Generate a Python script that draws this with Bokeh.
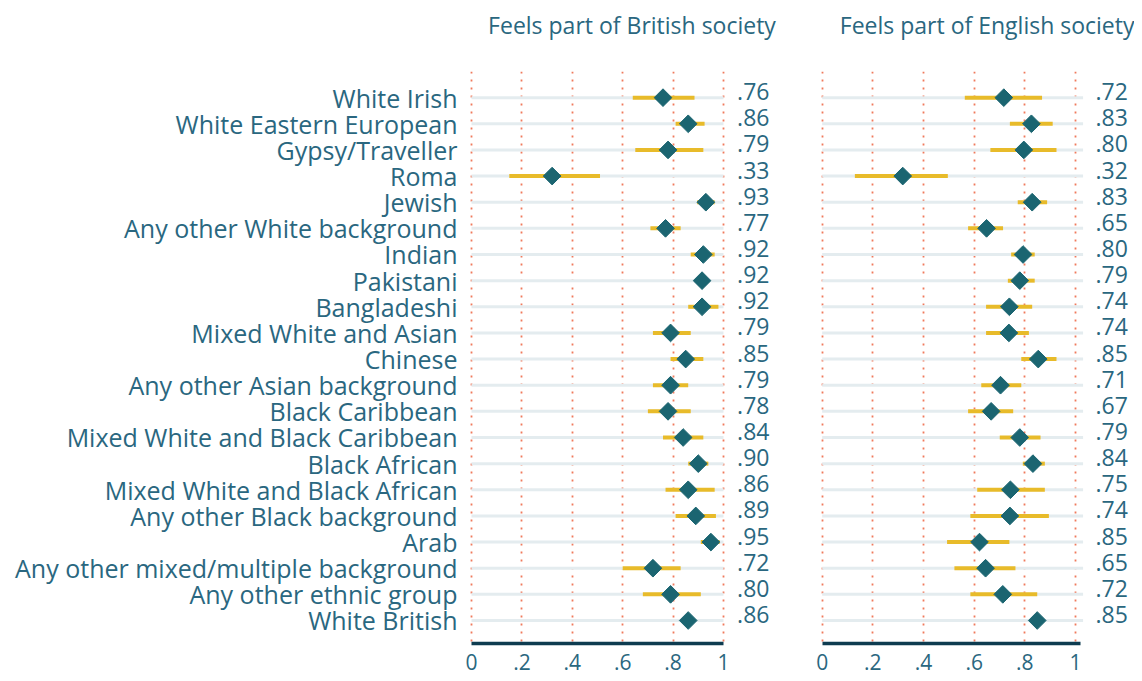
from bokeh.plotting import figure
from bokeh.layouts import row
from bokeh.models import ColumnDataSource, FixedTicker, Range1d, Title
from bokeh.core.properties import value
from bokeh.embed import file_html
from bokeh.resources import INLINE
import math

categories = ["White Irish", "White Eastern European", "Gypsy/Traveller", "Roma", "Jewish",
              "Any other White background", "Indian", "Pakistani", "Bangladeshi",
              "Mixed White and Asian", "Chinese", "Any other Asian background", "Black Caribbean",
              "Mixed White and Black Caribbean", "Black African", "Mixed White and Black African",
              "Any other Black background", "Arab", "Any other mixed/multiple background",
              "Any other ethnic group", "White British"]

british_est = [0.76, 0.86, 0.78, 0.32, 0.93, 0.77, 0.92, 0.915, 0.915, 0.79, 0.85, 0.79, 0.78,
               0.84, 0.90, 0.86, 0.89, 0.95, 0.72, 0.79, 0.86]
british_lo = [0.64, 0.81, 0.65, 0.15, 0.895, 0.71, 0.87, 0.90, 0.86, 0.72, 0.79, 0.72, 0.70,
              0.76, 0.86, 0.77, 0.81, 0.91, 0.60, 0.68, 0.85]
british_hi = [0.885, 0.925, 0.92, 0.51, 0.965, 0.83, 0.965, 0.93, 0.98, 0.87, 0.92, 0.86, 0.87,
              0.92, 0.94, 0.965, 0.97, 0.985, 0.83, 0.91, 0.87]
british_labels = [".76", ".86", ".79", ".33", ".93", ".77", ".92", ".92", ".92", ".79", ".85", ".79",
                  ".78", ".84", ".90", ".86", ".89", ".95", ".72", ".80", ".86"]

english_est = [0.717, 0.826, 0.796, 0.318, 0.829, 0.649, 0.793, 0.78, 0.739, 0.737, 0.853, 0.704,
               0.667, 0.78, 0.832, 0.743, 0.741, 0.621, 0.645, 0.713, 0.849]
english_lo = [0.563, 0.741, 0.664, 0.129, 0.772, 0.576, 0.746, 0.733, 0.647, 0.647, 0.786, 0.628,
              0.576, 0.701, 0.792, 0.612, 0.585, 0.493, 0.522, 0.585, 0.84]
english_hi = [0.868, 0.91, 0.925, 0.496, 0.888, 0.714, 0.839, 0.839, 0.829, 0.816, 0.925, 0.786,
              0.754, 0.862, 0.879, 0.879, 0.895, 0.739, 0.763, 0.849, 0.86]
english_labels = [".72", ".83", ".80", ".32", ".83", ".65", ".80", ".79", ".74", ".74", ".85", ".71",
                  ".67", ".79", ".84", ".75", ".74", ".85", ".65", ".72", ".85"]

x_ticks = [0, 0.2, 0.4, 0.6, 0.8, 1]
x_tick_labels = ["0", ".2", ".4", ".6", ".8", "1"]

titles = ["Feels part of British society", "Feels part of English society"]

TEXT = "#2a6780"
MARK = "#1b6571"
GOLD = "#e8bb2a"
GRID = "#f07a5c"
ROWLINE = "#e4ecef"
AXIS = "#0e3c50"
FONT = "Open Sans"

rows = list(range(1, len(categories) + 1))


def make_panel(est, lo, hi, labels, title, x_start, x_end, frame_width, border_left,
               show_y, label_x, line_end, axis_end, title_align):
    src = ColumnDataSource(dict(y=rows, est=est, lo=lo, hi=hi, lab=labels,
                                z=[0] * len(rows), e=[line_end] * len(rows),
                                lx=[label_x] * len(rows)))
    p = figure(width=frame_width + border_left, height=681,
               frame_width=frame_width, frame_height=572,
               x_range=Range1d(x_start, x_end), y_range=Range1d(21.88, 0.0),
               output_backend="svg", toolbar_location=None, tools="",
               min_border_left=border_left, min_border_right=0,
               min_border_top=71, min_border_bottom=38)
    p.outline_line_color = None
    p.background_fill_color = "white"
    p.border_fill_color = "white"

    # spacer between title and frame
    p.add_layout(Title(text=" ", text_font_size="1px", standoff=19), "above")

    p.title.text = title
    p.title.text_font = FONT
    p.title.text_font_size = "23px"
    p.title.text_font_style = "normal"
    p.title.text_color = TEXT
    p.title.align = title_align
    p.title.offset = 0
    p.title.vertical_align = "top"
    p.title.standoff = 14

    # row guide lines
    p.segment(x0="z", x1="e", y0="y", y1="y", source=src, line_color=ROWLINE, line_width=3)
    # confidence intervals
    p.segment(x0="lo", x1="hi", y0="y", y1="y", source=src, line_color=GOLD, line_width=4)
    # estimates
    p.scatter(x="est", y="y", source=src, marker="square", angle=math.pi / 4, size=12.5,
              fill_color=MARK, line_color=MARK)
    # value labels
    p.text(x="lx", y="y", text="lab", source=src, y_offset=-6,
           text_font=value(FONT), text_font_size="23px", text_color=TEXT,
           text_align="left", text_baseline="middle")

    # x axis
    xa = p.xaxis[0]
    xa.ticker = FixedTicker(ticks=x_ticks)
    xa.major_label_overrides = {t: l for t, l in zip(x_ticks, x_tick_labels)}
    xa.bounds = (0, axis_end)
    xa.axis_line_color = AXIS
    xa.axis_line_width = 3.5
    xa.major_tick_line_color = None
    xa.minor_tick_line_color = None
    xa.major_tick_out = 0
    xa.major_tick_in = 0
    xa.minor_tick_out = 0
    xa.major_label_standoff = 10
    xa.major_label_text_font = FONT
    xa.major_label_text_font_size = "21px"
    xa.major_label_text_color = TEXT

    # vertical dotted grid
    p.xgrid.ticker = FixedTicker(ticks=x_ticks)
    p.xgrid.grid_line_color = GRID
    p.xgrid.grid_line_dash = "2 6"
    p.xgrid.grid_line_width = 1.8
    p.xgrid.bounds = (0.95, 21.88)
    p.ygrid.grid_line_color = None

    ya = p.yaxis[0]
    if show_y:
        ya.ticker = FixedTicker(ticks=rows)
        ya.major_label_overrides = {r: c for r, c in zip(rows, categories)}
        ya.axis_line_color = None
        ya.major_tick_line_color = None
        ya.minor_tick_line_color = None
        ya.major_tick_out = 0
        ya.major_tick_in = 0
        ya.minor_tick_out = 0
        ya.major_label_standoff = 6
        ya.major_label_text_font = FONT
        ya.major_label_text_font_size = "25px"
        ya.major_label_text_color = TEXT
    else:
        ya.visible = False
    return p


p1 = make_panel(british_est, british_lo, british_hi, british_labels, titles[0],
                -0.0317, 1.3056, 337, 463, True, 1.054, 1.0, 1.0, "center")
p2 = make_panel(english_est, english_lo, english_hi, english_labels, titles[1],
                -0.0304, 1.233, 320, 14, False, 1.079, 1.03, 1.02, "right")

layout = row(p1, p2)
open("out.html", "w").write(file_html(layout, INLINE))
